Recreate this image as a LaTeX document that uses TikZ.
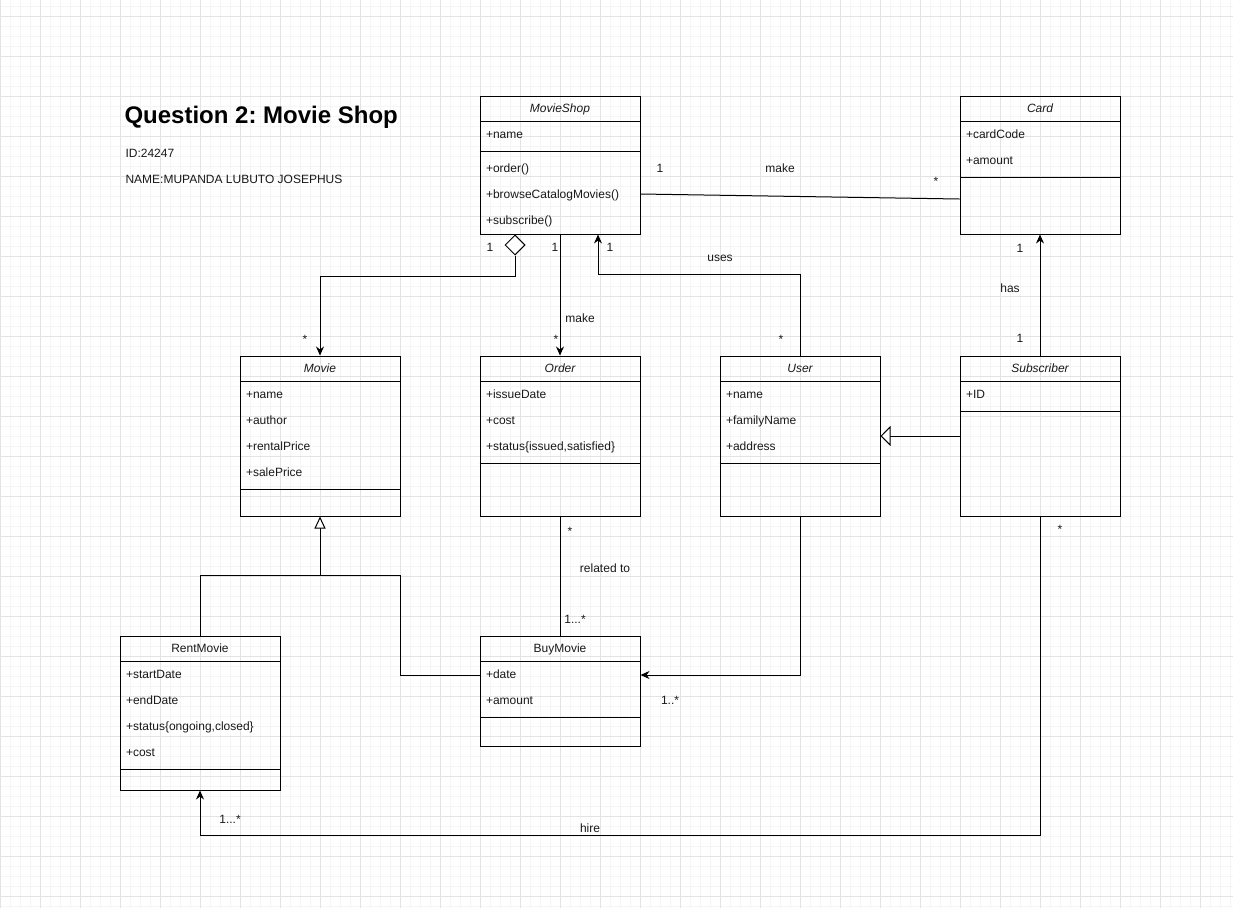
\documentclass[tikz,border=0pt]{standalone}
\usepackage{fontspec}
\setmainfont{Liberation Sans}
\usetikzlibrary{shapes.geometric,arrows.meta,calc}
\newcommand\umlfont{\fontsize{12}{14}\selectfont}

\begin{document}
\frenchspacing
\begin{tikzpicture}[
  x=1pt, y=-1pt,
  line width=1pt,
  every node/.style={font=\umlfont, text=black!90},
  classbox/.style={draw, minimum width=160pt, inner sep=0pt},
  header/.style={inner sep=0pt, text height=8.6pt, text depth=0pt},
  abstract/.style={header, font=\umlfont\itshape},
  member/.style={anchor=west, inner sep=0pt, text height=8.6pt, text depth=0pt},
  mult/.style={anchor=base, inner sep=0pt},
  arr/.style={-{Stealth[length=9pt,width=8pt]}},
  gen/.style={-{Triangle[length=12pt,width=11pt,fill=white]}},
  genwide/.style={-{Triangle[length=10pt,width=20pt,fill=white]}},
  ]
  \path[use as bounding box] (0,0) rectangle (1233,908);

  % background grid
  \fill[white] (0,0) rectangle (1233,908);
  \foreach \x in {0,10,...,1230} \draw[gray!8] (\x,0) -- (\x,908);
  \foreach \y in {6,16,...,906} \draw[gray!8] (0,\y) -- (1233,\y);
  \foreach \x in {0,40,...,1200} \draw[gray!22] (\x,0) -- (\x,908);
  \foreach \y in {16,56,...,896} \draw[gray!22] (0,\y) -- (1233,\y);

  % heading
  \node[anchor=base west, inner sep=0pt, font=\fontsize{24}{28}\selectfont\bfseries, text=black]
    (title) at (124,123) {Question 2: Movie Shop};
  \node[anchor=base west, inner sep=0pt] (sid) at (125,157) {ID:24247};
  \node[anchor=base west, inner sep=0pt] (sname) at (125,183) {NAME:MUPANDA LUBUTO JOSEPHUS};

  % MovieShop
  \node[classbox, minimum height=138pt] (shop) at (560,165) {};
  \node[abstract] (shop-t) at ($(shop.north)+(0,13)$) {MovieShop};
  \draw (shop.north west) ++(0,26) -- ++(160,0);
  \draw (shop.north west) ++(0,56) -- ++(160,0);
  \foreach \t [count=\i] in {+name}
    \node[member] (shop-a\i) at ($(shop.north west)+(6,13+26*\i)$) {\t};
  \foreach \t [count=\i] in {+order(),+browseCatalogMovies(),+subscribe()}
    \node[member] (shop-o\i) at ($(shop.north west)+(6,47+26*\i)$) {\t};

  % Card
  \node[classbox, minimum height=138pt] (card) at (1040,165) {};
  \node[abstract] (card-t) at ($(card.north)+(0,13)$) {Card};
  \draw (card.north west) ++(0,26) -- ++(160,0);
  \draw (card.north west) ++(0,82) -- ++(160,0);
  \foreach \t [count=\i] in {+cardCode,+amount}
    \node[member] (card-a\i) at ($(card.north west)+(6,13+26*\i)$) {\t};

  % Movie
  \node[classbox, minimum height=160pt] (movie) at (320,436) {};
  \node[abstract] (movie-t) at ($(movie.north)+(0,13)$) {Movie};
  \draw (movie.north west) ++(0,26) -- ++(160,0);
  \draw (movie.north west) ++(0,134) -- ++(160,0);
  \foreach \t [count=\i] in {+name,+author,+rentalPrice,+salePrice}
    \node[member] (movie-a\i) at ($(movie.north west)+(6,13+26*\i)$) {\t};

  % Order
  \node[classbox, minimum height=160pt] (order) at (560,436) {};
  \node[abstract] (order-t) at ($(order.north)+(0,13)$) {Order};
  \draw (order.north west) ++(0,26) -- ++(160,0);
  \draw (order.north west) ++(0,108) -- ++(160,0);
  \foreach \t [count=\i] in {+issueDate,+cost,{+status\{issued,satisfied\}}}
    \node[member] (order-a\i) at ($(order.north west)+(6,13+26*\i)$) {\t};

  % User
  \node[classbox, minimum height=160pt] (user) at (800,436) {};
  \node[abstract] (user-t) at ($(user.north)+(0,13)$) {User};
  \draw (user.north west) ++(0,26) -- ++(160,0);
  \draw (user.north west) ++(0,108) -- ++(160,0);
  \foreach \t [count=\i] in {+name,+familyName,+address}
    \node[member] (user-a\i) at ($(user.north west)+(6,13+26*\i)$) {\t};

  % Subscriber
  \node[classbox, minimum height=160pt] (sub) at (1040,436) {};
  \node[abstract] (sub-t) at ($(sub.north)+(0,13)$) {Subscriber};
  \draw (sub.north west) ++(0,26) -- ++(160,0);
  \draw (sub.north west) ++(0,56) -- ++(160,0);
  \foreach \t [count=\i] in {+ID}
    \node[member] (sub-a\i) at ($(sub.north west)+(6,13+26*\i)$) {\t};

  % RentMovie
  \node[classbox, minimum height=154pt] (rent) at (200,713) {};
  \node[header] (rent-t) at ($(rent.north)+(0,13)$) {RentMovie};
  \draw (rent.north west) ++(0,26) -- ++(160,0);
  \draw (rent.north west) ++(0,134) -- ++(160,0);
  \foreach \t [count=\i] in {+startDate,+endDate,{+status\{ongoing,closed\}},+cost}
    \node[member] (rent-a\i) at ($(rent.north west)+(6,13+26*\i)$) {\t};

  % BuyMovie
  \node[classbox, minimum height=110pt] (buy) at (560,691) {};
  \node[header] (buy-t) at ($(buy.north)+(0,13)$) {BuyMovie};
  \draw (buy.north west) ++(0,26) -- ++(160,0);
  \draw (buy.north west) ++(0,82) -- ++(160,0);
  \foreach \t [count=\i] in {+date,+amount}
    \node[member] (buy-a\i) at ($(buy.north west)+(6,13+26*\i)$) {\t};

  % connectors
  \draw ([yshift=-29pt]shop.east) -- ([yshift=-34pt]card.west);
  \node[draw, diamond, fill=white, minimum width=20pt, minimum height=20pt,
    inner sep=0pt, anchor=north] (agg) at ([xshift=-45pt]shop.south) {};
  \draw[arr] (agg.south) -- ++(0,21) -| (movie.north);
  \draw[arr] (shop.south) -- (order.north);
  \draw[arr] (user.north) -- ++(0,-81) -| ([xshift=38pt]shop.south);
  \draw[arr] (sub.north) -- (card.south);
  \draw[genwide] (sub.west) -- (user.east);
  \coordinate (join) at (320,575);
  \draw[gen] (rent.north) |- (join) -- (movie.south);
  \draw ([yshift=16pt]buy.west) -| (movie.east |- join) -- (join);
  \draw (order.south) -- (buy.north);
  \draw[arr] (user.south) |- ([yshift=16pt]buy.east);
  \coordinate (hire) at (600,835);
  \draw[arr] (sub.south) |- (hire) -| (rent.south);

  % multiplicities and roles
  \node[mult] (l-shop1) at (660,172) {1};
  \node[mult] (l-make1) at (780,172) {make};
  \node[mult] (l-card) at (936,185) {*};
  \node[mult] (l-agg1) at (490,251) {1};
  \node[mult] (l-movie) at (305,343) {*};
  \node[mult] (l-shop2) at (555,251) {1};
  \node[mult] (l-make2) at (580,322) {make};
  \node[mult] (l-order) at (556,343) {*};
  \node[mult] (l-shop3) at (610,251) {1};
  \node[mult] (l-uses) at (720,261) {uses};
  \node[mult] (l-user) at (781,343) {*};
  \node[mult] (l-card2) at (1020,252) {1};
  \node[mult] (l-has) at (1010,292) {has};
  \node[mult] (l-sub) at (1020,342) {1};
  \node[mult] (l-order2) at (570,535) {*};
  \node[mult] (l-rel) at (605,572) {related to};
  \node[mult] (l-buy) at (575,623) {1...*};
  \node[mult] (l-buy2) at (670,704) {1..*};
  \node[mult] (l-sub2) at (1060,533) {*};
  \node[mult] (l-hire) at (590,832) {hire};
  \node[mult] (l-rent) at (230,823) {1...*};
\end{tikzpicture}
\end{document}
